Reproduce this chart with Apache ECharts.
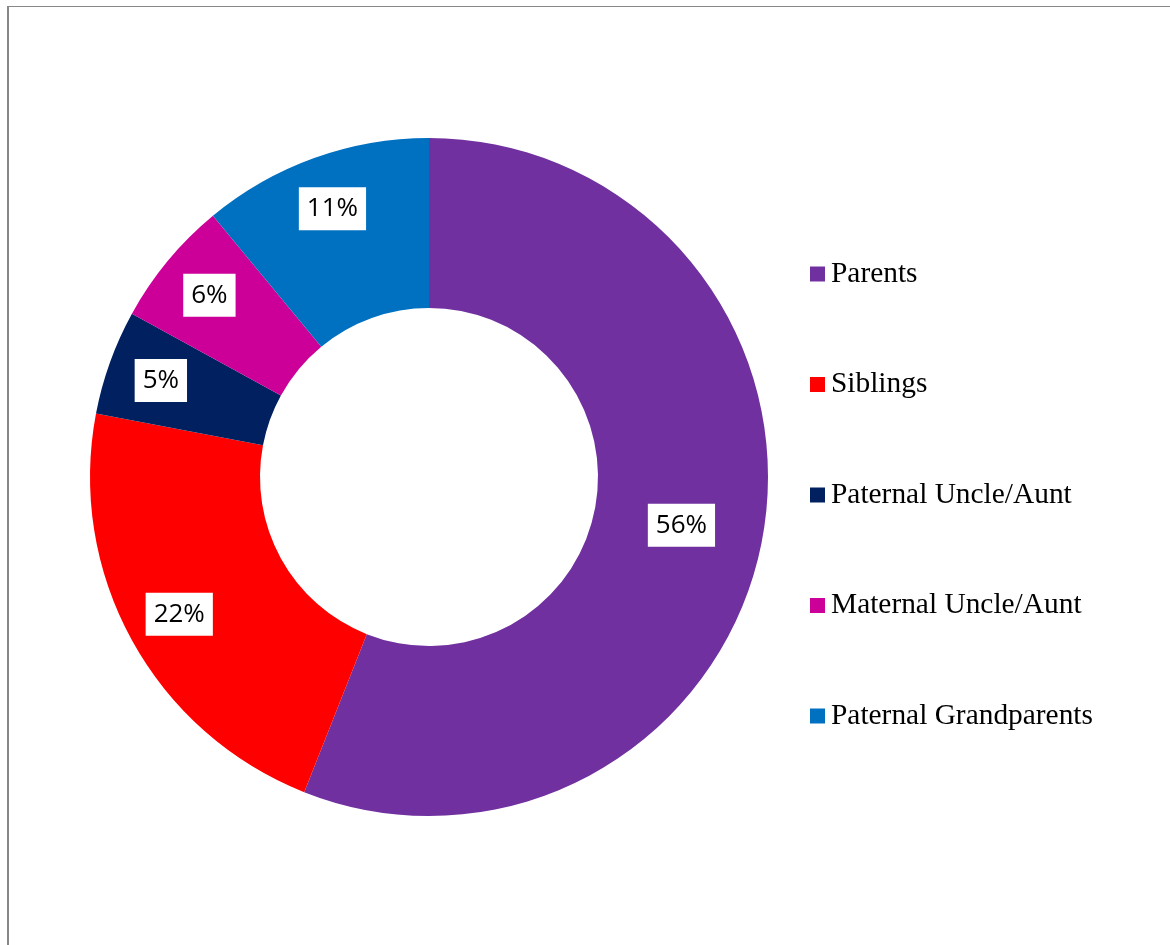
<!DOCTYPE html>
<html>
<head>
<meta charset="utf-8">
<title>Relationship of caregiver</title>
<script src="https://cdn.jsdelivr.net/npm/echarts@6/dist/echarts.min.js"></script>
<style>
  html, body { margin: 0; padding: 0; background: #ffffff; }
  #frame {
    position: absolute; left: 7px; top: 6px; width: 1163px; height: 939px;
    border-left: 2px solid #888888; border-top: 1px solid #888888;
    box-sizing: border-box;
  }
  #chart { position: absolute; left: 0; top: 0; width: 1170px; height: 945px; }
</style>
</head>
<body>
<div id="frame"></div>
<div id="chart"></div>
<script>
// Share of each relationship group (percent)
const categories = ['Parents', 'Siblings', 'Paternal Uncle/Aunt', 'Maternal Uncle/Aunt', 'Paternal Grandparents'];
const values = [56, 22, 5, 6, 11];
const colors = ['#7030A0', '#FF0000', '#002060', '#CC0099', '#0070C0'];

const center = [429, 477];
const ringRadius = [169, 339];

const pieData = categories.map((name, i) => ({
  name: name,
  value: values[i],
  itemStyle: { color: colors[i] }
}));

const boxLabel = {
  show: true,
  position: 'inside',
  formatter: p => p.value + '%',
  fontFamily: '"Open Sans", sans-serif',
  fontSize: 26,
  lineHeight: 27,
  color: '#000000',
  backgroundColor: '#ffffff',
  padding: [8, 8]
};

const chart = echarts.init(document.getElementById('chart'), null, { renderer: 'canvas' });
chart.setOption({
  animation: false,
  backgroundColor: 'transparent',
  legend: {
    orient: 'vertical',
    left: 805,
    top: 254,
    itemWidth: 15,
    itemHeight: 15,
    itemGap: 80.5,
    icon: 'rect',
    data: categories,
    textStyle: {
      fontFamily: '"Liberation Serif", "Times New Roman", serif',
      fontSize: 29.4,
      lineHeight: 30,
      color: '#000000',
      padding: [0, 0, 0, 1]
    }
  },
  series: [
    {
      // the ring itself; only the largest slice carries its label here
      type: 'pie',
      center: center,
      radius: ringRadius,
      startAngle: 90,
      clockwise: true,
      avoidLabelOverlap: false,
      data: pieData.map((d, i) => Object.assign({}, d, {
        label: { show: i === 0 }
      })),
      label: boxLabel,
      labelLine: { show: false },
      emphasis: { disabled: true }
    },
    {
      // transparent ring that places the remaining labels a bit further out
      type: 'pie',
      center: center,
      radius: [225, 339],
      startAngle: 90,
      clockwise: true,
      silent: true,
      legendHoverLink: false,
      avoidLabelOverlap: false,
      data: pieData.map((d, i) => ({
        name: d.name,
        value: d.value,
        itemStyle: { color: 'rgba(0,0,0,0)' },
        label: { show: i !== 0 }
      })),
      label: boxLabel,
      labelLine: { show: false },
      emphasis: { disabled: true }
    }
  ]
});
</script>
</body>
</html>
